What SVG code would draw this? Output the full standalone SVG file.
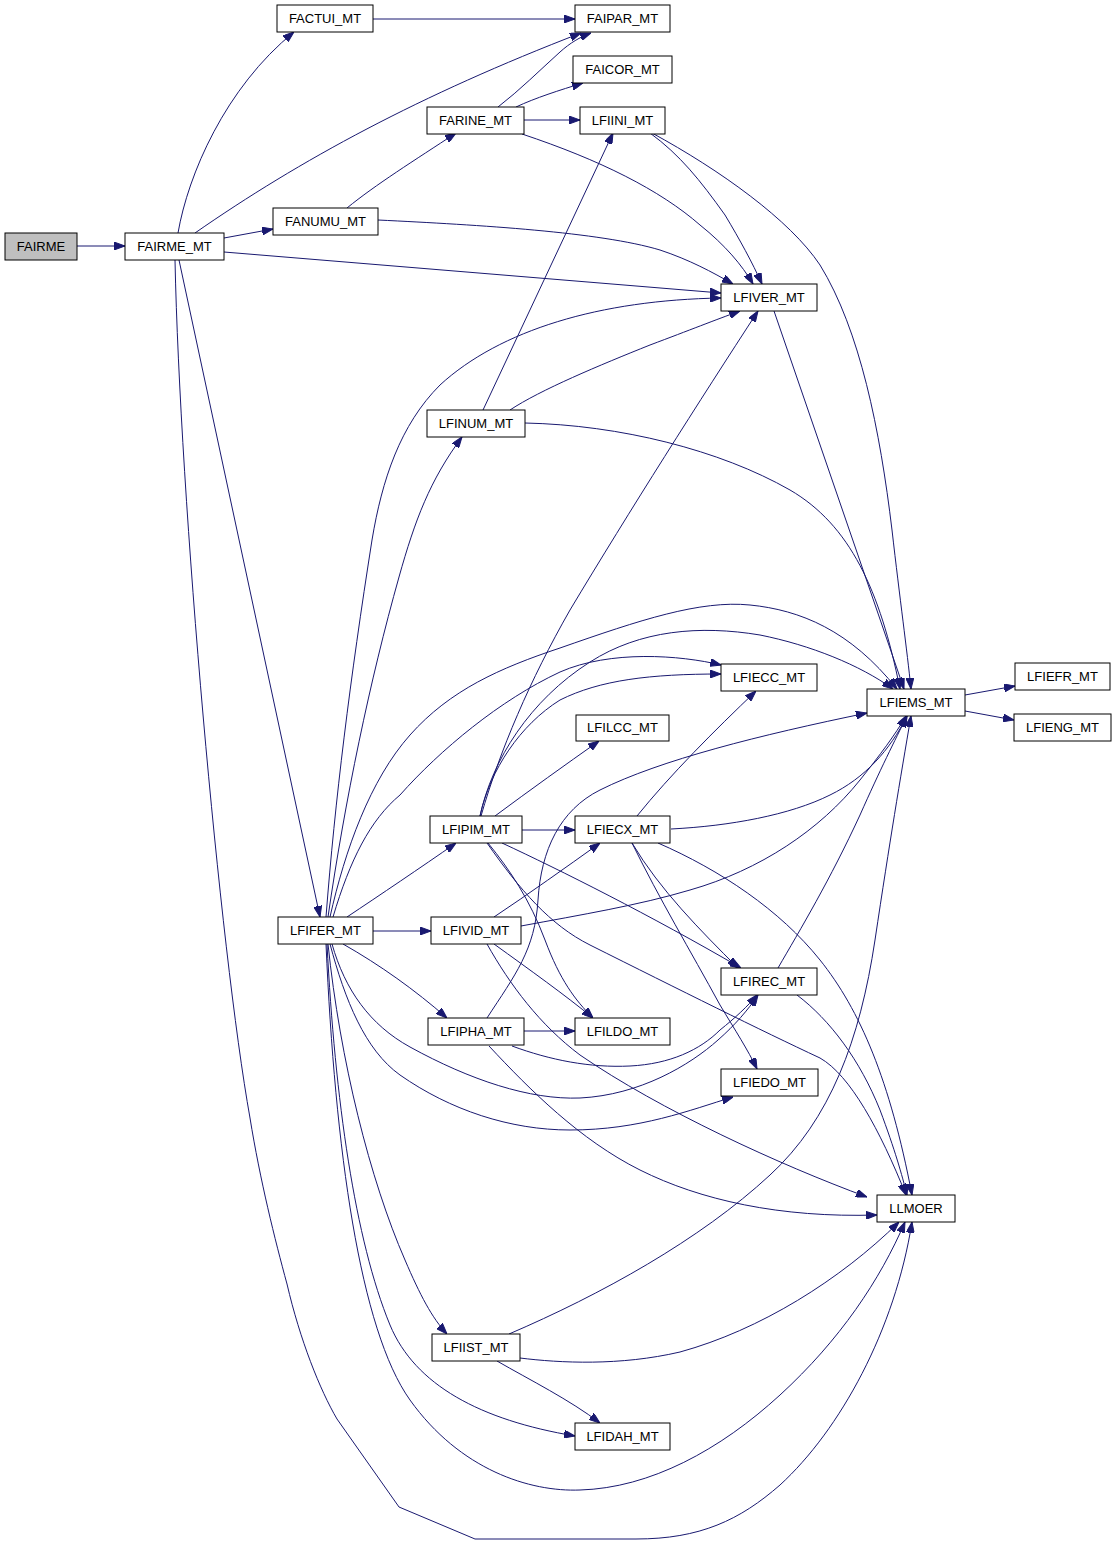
<svg xmlns="http://www.w3.org/2000/svg" width="1117" height="1544" viewBox="0 0 1117 1544">
<defs>
<style>
.n rect{fill:#ffffff;stroke:#000000;stroke-width:1}
.n text{font-family:"Liberation Sans",Arial,sans-serif;font-size:13px;fill:#000000;text-anchor:middle}
.e path{fill:none;stroke:#191970;stroke-width:1;marker-end:url(#a)}
</style>
<marker id="a" markerWidth="11" markerHeight="8" refX="11" refY="4" orient="auto" markerUnits="userSpaceOnUse"><path d="M0,0 L11,4 L0,8 z" fill="#191970" stroke="#191970" stroke-width="1"/></marker>
</defs>
<rect width="1117" height="1544" fill="#ffffff"/>
<g id="edges" class="e">
<path d="M77,246 L125,246"/>
<path d="M178,233 C188,175 225,88 294,32"/>
<path d="M195,233 C300,160 420,95 581,33"/>
<path d="M224,238 L273,229"/>
<path d="M224,252 L721,293"/>
<path d="M179,260 L320,917"/>
<path d="M175,260 C180,500 220,950 250,1118 C260,1180 275,1240 287,1284 C300,1340 320,1390 337,1419 L399,1507 L475,1539 L636,1539 C700,1539 740,1520 780,1485 C840,1430 895,1330 912,1222"/>
<path d="M373,19 L575,19"/>
<path d="M347,208 C375,185 415,160 456,133"/>
<path d="M378,220 C480,225 600,232 660,250 C690,260 712,272 733,284"/>
<path d="M498,107 C520,90 540,70 560,52 C570,43 580,37 591,33"/>
<path d="M516,107 C535,98 560,90 583,83"/>
<path d="M524,120 L580,120"/>
<path d="M522,134 C600,160 660,190 700,225 C725,245 742,265 753,284"/>
<path d="M650,133 C680,155 700,180 725,215 C740,240 752,262 762,284"/>
<path d="M652,133 C720,170 790,220 820,265 C860,330 880,430 892,530 C900,600 907,650 911,689"/>
<path d="M774,311 L904,689"/>
<path d="M483,410 L613,133"/>
<path d="M510,410 C540,390 600,365 650,345 C690,330 715,320 740,311"/>
<path d="M525,423 C620,425 720,450 790,490 C850,525 880,590 900,689"/>
<path d="M326,917 C335,800 350,680 372,540 C382,480 400,425 440,385 C500,330 600,300 721,298"/>
<path d="M328,917 C345,800 370,680 399,577 C415,520 430,480 462,437"/>
<path d="M330,917 C345,850 370,780 410,735 C450,690 500,668 560,648 C640,620 700,600 750,605 C800,610 850,630 897,689"/>
<path d="M333,917 C350,860 370,820 400,795 C440,750 500,700 560,672 C610,650 680,655 721,665"/>
<path d="M347,917 C380,895 420,868 456,843"/>
<path d="M373,931 L431,931"/>
<path d="M343,944 C380,965 415,990 447,1018"/>
<path d="M332,944 C345,990 370,1025 410,1047 C470,1080 530,1100 580,1098 C640,1095 690,1065 718,1040 C735,1025 748,1010 758,995"/>
<path d="M330,944 C345,1000 365,1050 400,1075 C450,1110 510,1130 570,1130 C640,1130 690,1110 733,1097"/>
<path d="M328,944 C340,1060 370,1180 405,1260 C420,1295 432,1318 447,1334"/>
<path d="M327,944 C335,1100 355,1240 390,1325 C415,1385 480,1420 575,1436"/>
<path d="M326,944 C335,1150 360,1330 410,1400 C460,1470 530,1492 580,1490 C650,1488 720,1450 780,1395 C840,1340 880,1280 905,1222"/>
<path d="M522,830 L575,830"/>
<path d="M495,816 C530,790 565,765 599,741"/>
<path d="M480,816 C490,770 520,725 560,700 C600,680 650,674 721,674"/>
<path d="M480,816 C492,760 530,700 590,662 C640,630 700,625 760,635 C810,645 860,665 893,689"/>
<path d="M481,816 C500,750 530,680 570,610 C630,510 700,400 758,311"/>
<path d="M502,843 C560,870 650,915 741,968"/>
<path d="M488,843 C510,870 530,900 545,940 C560,980 575,1000 593,1018"/>
<path d="M487,843 C520,890 550,925 590,945 C680,990 760,1030 820,1058 C850,1075 880,1130 906,1195"/>
<path d="M494,917 C530,893 565,868 600,843"/>
<path d="M521,926 C580,915 640,905 690,890 C760,870 820,830 860,780 C880,755 895,735 906,716"/>
<path d="M494,944 C530,970 565,995 593,1018"/>
<path d="M487,944 C510,985 540,1025 580,1055 C660,1110 780,1165 867,1197"/>
<path d="M524,1031 L575,1031"/>
<path d="M512,1046 C550,1060 590,1068 630,1066 C670,1064 700,1050 720,1030 C735,1018 748,1006 757,995"/>
<path d="M489,1046 C530,1090 580,1140 640,1170 C700,1200 780,1218 877,1215"/>
<path d="M487,1018 C515,975 535,950 538,900 C541,850 560,810 600,790 C660,760 760,735 867,713"/>
<path d="M637,816 C670,775 715,730 756,691"/>
<path d="M671,829 C730,826 790,815 830,795 C865,778 890,750 907,716"/>
<path d="M632,843 C660,890 700,930 738,968"/>
<path d="M632,843 C660,900 690,950 720,1005 C735,1030 748,1050 757,1069"/>
<path d="M658,843 C720,870 780,910 820,960 C860,1010 890,1080 912,1195"/>
<path d="M778,968 C800,930 830,880 860,815 C880,770 895,740 907,716"/>
<path d="M797,995 C830,1020 860,1060 880,1110 C895,1150 902,1175 907,1195"/>
<path d="M509,1334 C600,1295 700,1240 770,1175 C830,1120 860,1040 875,940 C890,840 900,780 911,716"/>
<path d="M520,1358 C560,1363 620,1366 680,1352 C760,1330 840,1280 899,1222"/>
<path d="M497,1361 C530,1380 570,1400 600,1423"/>
<path d="M965,695 L1015,686"/>
<path d="M965,711 L1014,720"/>
</g>
<g id="FAIRME" class="n"><rect x="5" y="233" width="72" height="27" style="fill:#bfbfbf"/><text x="41" y="251">FAIRME</text></g>
<g id="FAIRME_MT" class="n"><rect x="125" y="233" width="99" height="27"/><text x="174.5" y="251">FAIRME_MT</text></g>
<g id="FACTUI_MT" class="n"><rect x="277" y="5" width="96" height="27"/><text x="325" y="23">FACTUI_MT</text></g>
<g id="FAIPAR_MT" class="n"><rect x="575" y="5" width="95" height="27"/><text x="622.5" y="23">FAIPAR_MT</text></g>
<g id="FAICOR_MT" class="n"><rect x="573" y="56" width="99" height="27"/><text x="622.5" y="74">FAICOR_MT</text></g>
<g id="FARINE_MT" class="n"><rect x="427" y="107" width="97" height="27"/><text x="475.5" y="125">FARINE_MT</text></g>
<g id="LFIINI_MT" class="n"><rect x="580" y="107" width="85" height="27"/><text x="622.5" y="125">LFIINI_MT</text></g>
<g id="FANUMU_MT" class="n"><rect x="273" y="208" width="105" height="27"/><text x="325.5" y="226">FANUMU_MT</text></g>
<g id="LFIVER_MT" class="n"><rect x="721" y="284" width="96" height="27"/><text x="769" y="302">LFIVER_MT</text></g>
<g id="LFINUM_MT" class="n"><rect x="427" y="410" width="98" height="27"/><text x="476" y="428">LFINUM_MT</text></g>
<g id="LFIECC_MT" class="n"><rect x="721" y="664" width="96" height="27"/><text x="769" y="682">LFIECC_MT</text></g>
<g id="LFIEMS_MT" class="n"><rect x="867" y="689" width="98" height="27"/><text x="916" y="707">LFIEMS_MT</text></g>
<g id="LFIEFR_MT" class="n"><rect x="1015" y="663" width="95" height="27"/><text x="1062.5" y="681">LFIEFR_MT</text></g>
<g id="LFIENG_MT" class="n"><rect x="1014" y="714" width="97" height="27"/><text x="1062.5" y="732">LFIENG_MT</text></g>
<g id="LFILCC_MT" class="n"><rect x="576" y="715" width="93" height="26"/><text x="622.5" y="732">LFILCC_MT</text></g>
<g id="LFIPIM_MT" class="n"><rect x="430" y="816" width="92" height="27"/><text x="476" y="834">LFIPIM_MT</text></g>
<g id="LFIECX_MT" class="n"><rect x="575" y="816" width="95" height="27"/><text x="622.5" y="834">LFIECX_MT</text></g>
<g id="LFIFER_MT" class="n"><rect x="278" y="917" width="95" height="27"/><text x="325.5" y="935">LFIFER_MT</text></g>
<g id="LFIVID_MT" class="n"><rect x="431" y="917" width="90" height="27"/><text x="476" y="935">LFIVID_MT</text></g>
<g id="LFIREC_MT" class="n"><rect x="721" y="968" width="96" height="27"/><text x="769" y="986">LFIREC_MT</text></g>
<g id="LFIPHA_MT" class="n"><rect x="428" y="1018" width="96" height="27"/><text x="476" y="1036">LFIPHA_MT</text></g>
<g id="LFILDO_MT" class="n"><rect x="575" y="1018" width="95" height="27"/><text x="622.5" y="1036">LFILDO_MT</text></g>
<g id="LFIEDO_MT" class="n"><rect x="721" y="1069" width="97" height="27"/><text x="769.5" y="1087">LFIEDO_MT</text></g>
<g id="LLMOER" class="n"><rect x="877" y="1195" width="78" height="27"/><text x="916" y="1213">LLMOER</text></g>
<g id="LFIIST_MT" class="n"><rect x="432" y="1334" width="88" height="27"/><text x="476" y="1352">LFIIST_MT</text></g>
<g id="LFIDAH_MT" class="n"><rect x="575" y="1423" width="95" height="27"/><text x="622.5" y="1441">LFIDAH_MT</text></g>
</svg>
